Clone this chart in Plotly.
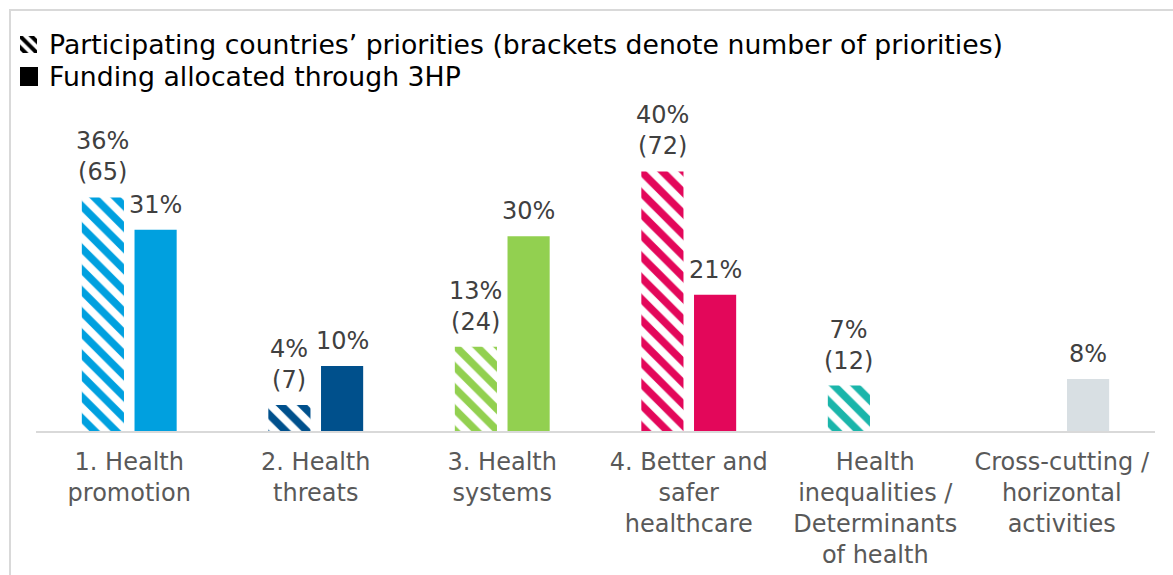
import plotly.graph_objects as go

# Thematic areas of the health programme
categories = [
    "1. Health<br>promotion",
    "2. Health<br>threats",
    "3. Health<br>systems",
    "4. Better and<br>safer<br>healthcare",
    "Health<br>inequalities /<br>Determinants<br>of health",
    "Cross-cutting /<br>horizontal<br>activities",
]
# Share of participating countries' priorities (%) and number of priorities
priority_share = [36, 4, 13, 40, 7, None]
priority_count = [65, 7, 24, 72, 12, None]
# Share of funding allocated through 3HP (%)
funding_share = [31, 10, 30, 21, None, 8]

colors = ["#00A0DF", "#00508C", "#92D050", "#E3075A", "#1AB5AA", "#D8DFE3"]

W, H = 1173, 575
FONT = "DejaVu Sans"
LABEL_SIZE = 24
KEY_SIZE = 26.7


def fx(x):
    return x / W


def fy(y):
    return 1 - y / H


fig = go.Figure()

# hatched bars: white ground with coloured diagonal stripes
fig.add_trace(go.Bar(
    x=categories, y=priority_share,
    marker=dict(
        color="white",
        line=dict(width=0),
        pattern=dict(shape="\\", fillmode="overlay", fgcolor=colors,
                     fgopacity=1, size=15, solidity=0.5),
    ),
    hoverinfo="skip", showlegend=False,
))
fig.add_trace(go.Bar(
    x=categories, y=funding_share,
    marker=dict(color=colors, line=dict(width=0)),
    hoverinfo="skip", showlegend=False,
))

# hatched key symbol drawn as a tiny patterned bar on its own axes
fig.add_trace(go.Bar(
    x=[0], y=[1], width=[1], xaxis="x2", yaxis="y2",
    marker=dict(color="white", line=dict(width=0),
                pattern=dict(shape="\\", fillmode="overlay", fgcolor="black",
                             fgopacity=1, size=8, solidity=0.5)),
    hoverinfo="skip", showlegend=False,
))

slot = (1 - 0.435) / 4
annotations = []
for i, (v, n) in enumerate(zip(priority_share, priority_count)):
    if v is not None:
        annotations.append(dict(
            x=i - slot, y=v, xref="x", yref="y", text=f"{v}%<br>({n})",
            showarrow=False, yanchor="bottom", xanchor="center", yshift=9,
            font=dict(family=FONT, size=LABEL_SIZE, color="#404040"),
        ))
for i, v in enumerate(funding_share):
    if v is not None:
        annotations.append(dict(
            x=i + slot, y=v, xref="x", yref="y", text=f"{v}%",
            showarrow=False, yanchor="bottom", xanchor="center", yshift=9,
            font=dict(family=FONT, size=LABEL_SIZE, color="#404040"),
        ))

# key texts
annotations.append(dict(
    x=fx(47), y=fy(45), xref="paper", yref="paper", xanchor="left", yanchor="middle",
    text="Participating countries’ priorities (brackets denote number of priorities)",
    showarrow=False, font=dict(family=FONT, size=KEY_SIZE, color="black"),
))
annotations.append(dict(
    x=fx(47), y=fy(77), xref="paper", yref="paper", xanchor="left", yanchor="middle",
    text="Funding allocated through 3HP",
    showarrow=False, font=dict(family=FONT, size=KEY_SIZE, color="black"),
))

shapes = [
    # outer frame
    dict(type="rect", xref="paper", yref="paper",
         x0=fx(10), x1=fx(1200), y0=fy(600), y1=fy(10),
         line=dict(color="#D9D9D9", width=2), fillcolor="rgba(0,0,0,0)", layer="below"),
    # solid key symbol
    dict(type="rect", xref="paper", yref="paper",
         x0=fx(20), x1=fx(38), y0=fy(86), y1=fy(67),
         line=dict(width=0), fillcolor="black"),
]

fig.update_layout(
    width=W, height=H,
    margin=dict(l=0, r=0, t=0, b=0),
    paper_bgcolor="white", plot_bgcolor="white",
    barmode="group", bargap=0.435, bargroupgap=0.2,
    font=dict(family=FONT),
    xaxis=dict(
        domain=[fx(36), fx(1155)], type="category",
        showline=True, linecolor="#D9D9D9", linewidth=2,
        ticks="", showgrid=False, automargin=False, ticklabelstandoff=8,
        tickfont=dict(family=FONT, size=LABEL_SIZE, color="#595959"),
    ),
    yaxis=dict(domain=[fy(431), fy(139)], range=[0, 45], visible=False,
               fixedrange=True),
    xaxis2=dict(domain=[fx(20), fx(37)], range=[-0.5, 0.5], visible=False,
                anchor="y2"),
    yaxis2=dict(domain=[fy(53), fy(36)], range=[0, 1], visible=False,
                anchor="x2"),
    annotations=annotations,
    shapes=shapes,
)

fig.write_html("out.html")
